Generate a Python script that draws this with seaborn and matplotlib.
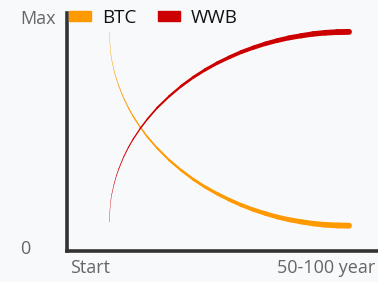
import numpy as np
import pandas as pd
import seaborn as sns
import matplotlib.pyplot as plt
import matplotlib.transforms as mtransforms
from matplotlib.patches import Patch

# values (x: 0 = start, 100 = 50-100 years; y: 0..100 = 0..Max)
years = [0, 0.5, 1, 2, 3, 4, 6, 8, 10, 13, 16, 20, 25, 30, 35, 40, 45, 50,
         55, 60, 65, 70, 75, 80, 85, 90, 95, 100]
btc = [93.6, 85.2, 81.7, 76.8, 73.1, 70.0, 64.8, 60.5, 56.8, 52.0, 47.8, 43.0, 37.8,
       33.4, 29.5, 26.1, 23.2, 20.6, 18.3, 16.3, 14.6, 13.1, 11.9, 11.0, 10.2, 9.7,
       9.4, 9.3]
wwb = [10.9, 19.1, 22.6, 27.3, 31.0, 34.0, 39.1, 43.3, 46.9, 51.6, 55.7, 60.5, 65.5,
       69.9, 73.7, 77.0, 79.9, 82.4, 84.7, 86.6, 88.3, 89.7, 90.9, 91.8, 92.6, 93.1,
       93.4, 93.5]
series = ["BTC", "WWB"]
colors = {"BTC": "#ff9900", "WWB": "#cc0000"}
ytick_labels = ["0", "Max"]
xtick_labels = ["Start", "50-100 year"]

bg = "#f8f9fb"
sns.set_style("white")
plt.rcParams["font.family"] = ["Open Sans", "DejaVu Sans"]

fig = plt.figure(figsize=(3.78, 2.82), dpi=100, facecolor=bg)
ax = fig.add_axes([67 / 378, 31 / 282, 1 - 67 / 378, 238 / 282])
ax.set_facecolor(bg)


def seg_width(xm):
    # line gets thicker towards the right (px -> pt)
    return (0.3 + 5.7 * (xm / 100) ** 0.8) * 0.72


for name, vals in zip(series, [btc, wwb]):
    rows = []
    for i in range(len(years) - 1):
        w = seg_width((years[i] + years[i + 1]) / 2)
        rows.append(dict(x=years[i], y=vals[i], seg=i, w=w))
        rows.append(dict(x=years[i + 1], y=vals[i + 1], seg=i, w=w))
    df = pd.DataFrame(rows)
    sns.lineplot(data=df, x="x", y="y", units="seg", size="w",
                 sizes=(0, 5), size_norm=(0, 5), estimator=None,
                 color=colors[name], legend=False, sort=False,
                 solid_capstyle="round", ax=ax)

ax.set_xlim(-17.6, 112.1)
ax.set_ylim(-1.7, 101.7)
ax.set_xlabel("")
ax.set_ylabel("")

for s in ["top", "right"]:
    ax.spines[s].set_visible(False)
for s in ["left", "bottom"]:
    ax.spines[s].set_color("#333333")
    ax.spines[s].set_linewidth(2.6)

ax.set_yticks([0, 100])
ax.set_yticklabels(ytick_labels)
ax.tick_params(axis="y", length=0, pad=33.8, labelsize=13, labelcolor="#666666")
for t in ax.get_yticklabels():
    t.set_ha("left")

ax.set_xticks(list(ax.get_xlim()))
ax.set_xticklabels(xtick_labels)
ax.tick_params(axis="x", length=0, pad=6, labelsize=13, labelcolor="#666666")
xl = ax.get_xticklabels()
xl[0].set_ha("left")
xl[0].set_transform(xl[0].get_transform() + mtransforms.ScaledTranslation(3 / 100, 0, fig.dpi_scale_trans))
xl[1].set_ha("right")
xl[1].set_transform(xl[1].get_transform() + mtransforms.ScaledTranslation(-3 / 100, 0, fig.dpi_scale_trans))

handles = [Patch(color=colors[n], label=n) for n in series]
leg = fig.legend(handles=handles, loc="center left",
                 bbox_to_anchor=(69 / 378, 1 - 18 / 282), ncol=2, frameon=False,
                 fontsize=13.5, handlelength=1.18, handleheight=0.43,
                 handletextpad=0.58, columnspacing=1.15, borderpad=0, borderaxespad=0)
for t in leg.get_texts():
    t.set_color("#111111")

fig.savefig("out.png", dpi=100, facecolor=bg)
